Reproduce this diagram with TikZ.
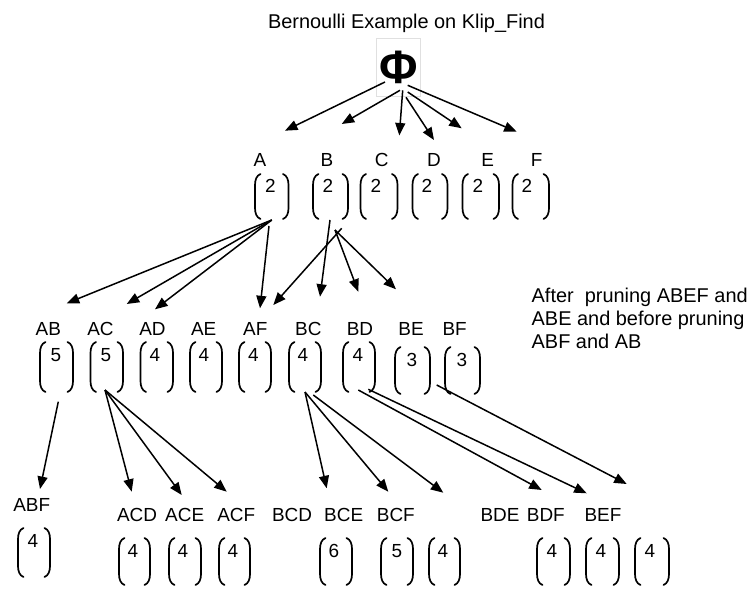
\documentclass[tikz,border=0pt]{standalone}
\usepackage{fontspec}
\setmainfont{Liberation Sans}
\usetikzlibrary{arrows.meta,calc}

\tikzset{
  lbl/.style={font=\fontsize{19}{22}\selectfont, inner sep=0pt, anchor=base},
  numtxt/.style={font=\fontsize{19}{22}\selectfont, inner sep=0pt, anchor=base},
  note/.style={font=\fontsize{20}{23}\selectfont, inner sep=0pt, anchor=base west},
  brk/.style={line width=1.7bp, line cap=round},
  arr/.style={line width=1.5bp, -{Triangle[length=12.5bp,width=10bp]}},
  vecbox/.style={inner sep=0pt, outer sep=0pt},
}

% bracketed count: name, left x, right x, top y, bottom y, value, value x
\newcommand\vecnode[7]{%
  \node[vecbox, minimum width={(#3-#2)*1bp}, minimum height={(#5-#4)*1bp}]
    (#1) at ({(#2+#3)/2},{(#4+#5)/2}) {};
  \draw[brk] (#2+5.5,#4) .. controls (#2+1.5,#4+1.5) and (#2,#4+6) .. (#2,#4+11)
     -- (#2,#5-11) .. controls (#2,#5-6) and (#2+1.5,#5-1.5) .. (#2+5.5,#5);
  \draw[brk] (#3-5.5,#4) .. controls (#3-1.5,#4+1.5) and (#3,#4+6) .. (#3,#4+11)
     -- (#3,#5-11) .. controls (#3,#5-6) and (#3-1.5,#5-1.5) .. (#3-5.5,#5);
  \node[numtxt] (#1-n) at (#7,#4+19) {#6};
}

\begin{document}
\begin{tikzpicture}[x=1bp,y=-1bp]
\useasboundingbox (0,0) rectangle (752,589);
\fill[white] (0,0) rectangle (752,589);

% title and root
\node[font=\fontsize{20}{24}\selectfont, inner sep=0pt, anchor=base] (title)
  at (406.5,28.3) {Bernoulli Example on Klip\_Find};
\node[draw=black!12, line width=0.6bp, minimum width=43.3bp, minimum height=58.4bp,
  inner sep=0pt, font=\fontsize{47}{47}\bfseries\selectfont] (phi) at (398.3,67.5) {Φ};

% level 1
\node[lbl] (A) at (260,166.5) {A};
\node[lbl] (B) at (327,166.5) {B};
\node[lbl] (C) at (381.7,166.5) {C};
\node[lbl] (D) at (434,166.5) {D};
\node[lbl] (E) at (487.7,166.5) {E};
\node[lbl] (F) at (536.7,166.5) {F};
\vecnode{vA}{255}{288.5}{174}{219}{2}{270.5}
\vecnode{vB}{313}{348}{174}{219}{2}{328}
\vecnode{vC}{360.5}{397.5}{174}{219}{2}{376}
\vecnode{vD}{412.5}{447.5}{174}{219}{2}{427}
\vecnode{vE}{462.5}{499}{174}{219}{2}{478}
\vecnode{vF}{512.5}{549}{174}{219}{2}{527}

% level 2
\node[lbl] (AB) at (48.3,335) {AB};
\node[lbl] (AC) at (100.5,335) {AC};
\node[lbl] (AD) at (152.5,335) {AD};
\node[lbl] (AE) at (203.7,335) {AE};
\node[lbl] (AF) at (255.3,335) {AF};
\node[lbl] (BC) at (308.3,335) {BC};
\node[lbl] (BD) at (360,335) {BD};
\node[lbl] (BE) at (411,335) {BE};
\node[lbl] (BF) at (454.7,335) {BF};
\vecnode{vAB}{40}{73}{342}{392}{5}{56}
\vecnode{vAC}{90.5}{123}{342}{392}{5}{106}
\vecnode{vAD}{140.5}{173}{342}{392}{4}{155}
\vecnode{vAE}{190}{222}{342}{392}{4}{204}
\vecnode{vAF}{239}{271}{342}{392}{4}{253.5}
\vecnode{vBC}{289}{321}{342}{392}{4}{303}
\vecnode{vBD}{343}{375}{342}{392}{4}{358}
\vecnode{vBE}{395}{430}{347}{394}{3}{412}
\vecnode{vBF}{445}{480}{347}{394}{3}{462}

% level 3
\node[lbl] (ABF) at (31.7,511.7) {ABF};
\node[lbl] (ACD) at (137,521) {ACD};
\node[lbl] (ACE) at (184.7,521) {ACE};
\node[lbl] (ACF) at (236.3,521) {ACF};
\node[lbl] (BCD) at (292,521) {BCD};
\node[lbl] (BCE) at (343.7,521) {BCE};
\node[lbl] (BCF) at (395.8,521) {BCF};
\node[lbl] (BDE) at (500,521) {BDE};
\node[lbl] (BDF) at (545.8,521) {BDF};
\node[lbl] (BEF) at (603,521) {BEF};
\vecnode{vABF}{18}{50}{528}{577}{4}{33}
\vecnode{vACD}{119}{150}{538}{585}{4}{133}
\vecnode{vACE}{169}{201}{538}{585}{4}{183}
\vecnode{vACF}{219}{250}{538}{585}{4}{233}
\vecnode{vBCD}{320}{352}{538}{585}{6}{334}
\vecnode{vBCE}{381}{413}{538}{585}{5}{397}
\vecnode{vBCF}{429}{460}{538}{585}{4}{443}
\vecnode{vBDE}{537}{570}{538}{585}{4}{552}
\vecnode{vBDF}{586}{619}{538}{585}{4}{601}
\vecnode{vBEF}{635}{669}{538}{585}{4}{650}

% side note
\node[note] (note1) at (531.5,302.3) {After~~pruning ABEF and};
\node[note] (note2) at (531.5,325) {ABE and before pruning};
\node[note] (note3) at (531.5,348.3) {ABF and AB};

% arrow tips
\coordinate (tA) at (285,130.7);
\coordinate (tB) at (341.7,124);
\coordinate (tC) at (399.3,135.5);
\coordinate (tD) at (434,140);
\coordinate (tE) at (461.7,128.3);
\coordinate (tF) at (516.7,131.7);
\coordinate (tAB) at (66.7,303.3);
\coordinate (tAC) at (126.7,304);
\coordinate (tAD) at (155,309.3);
\coordinate (tAFa) at (260,308.3);
\coordinate (tBC) at (320,296.7);
\coordinate (tAFb) at (273.3,305);
\coordinate (tBD) at (358.3,291.7);
\coordinate (tBE) at (396,289.3);
\coordinate (tABF) at (40,489);
\coordinate (tACD) at (131.7,491.7);
\coordinate (tACE) at (181.7,495);
\coordinate (tACF) at (226.7,491.7);
\coordinate (tBCD) at (326.7,488.3);
\coordinate (tBCE) at (388.3,491.7);
\coordinate (tBCF) at (443.3,492.7);
\coordinate (tBDE) at (541.7,490);
\coordinate (tBDF) at (586.7,493.3);
\coordinate (tBEF) at (626.7,484);

% root to singletons
\draw[arr] ($(phi.south)+(-13.3,-15)$) -- (tA);
\draw[arr] ($(phi.south)+(1.7,-6.7)$) -- (tB);
\draw[arr] ($(phi.south)+(4.4,-6.7)$) -- (tC);
\draw[arr] ($(phi.south)+(7.7,0.3)$) -- (tD);
\draw[arr] ($(phi.south)+(9.4,-5)$) -- (tE);
\draw[arr] ($(phi.south)+(9.4,-11.7)$) -- (tF);

% singletons to pairs
\draw[arr] ($(vA.south)+(0,1)$) -- (tAB);
\draw[arr] ($(vA.south)+(0,1)$) -- (tAC);
\draw[arr] ($(vA.south)+(0,1)$) -- (tAD);
\draw[arr] ($(vA.south)+(-2.75,7)$) -- (tAFa);
\draw[arr] ($(vB.south)+(-0.5,1)$) -- (tBC);
\draw[arr] ($(vB.south)+(11.2,9.3)$) -- (tAFb);
\draw[arr] ($(vB.south)+(4.5,11)$) -- (tBD);
\draw[arr] ($(vB.south)+(4.5,11)$) -- (tBE);

% pairs to triples
\draw[arr] ($(vAB.south)+(1.8,9.7)$) -- (tABF);
\draw[arr] ($(vAC.south)+(-1.75,-2)$) -- (tACD);
\draw[arr] ($(vAC.south)+(-1.75,-2)$) -- (tACE);
\draw[arr] ($(vAC.south)+(-1.75,-2)$) -- (tACF);
\draw[arr] (vBC.south) -- (tBCD);
\draw[arr] (vBC.south) -- (tBCE);
\draw[arr] ($(vBC.south)+(8.3,3)$) -- (tBCF);
\draw[arr] ($(vBD.south)+(-0.7,-2)$) -- (tBDE);
\draw[arr] ($(vBD.south)+(9.3,-2.7)$) -- (tBDF);
\draw[arr] ($(vBE.south east)+(6.7,-9)$) -- (tBEF);
\end{tikzpicture}
\end{document}
